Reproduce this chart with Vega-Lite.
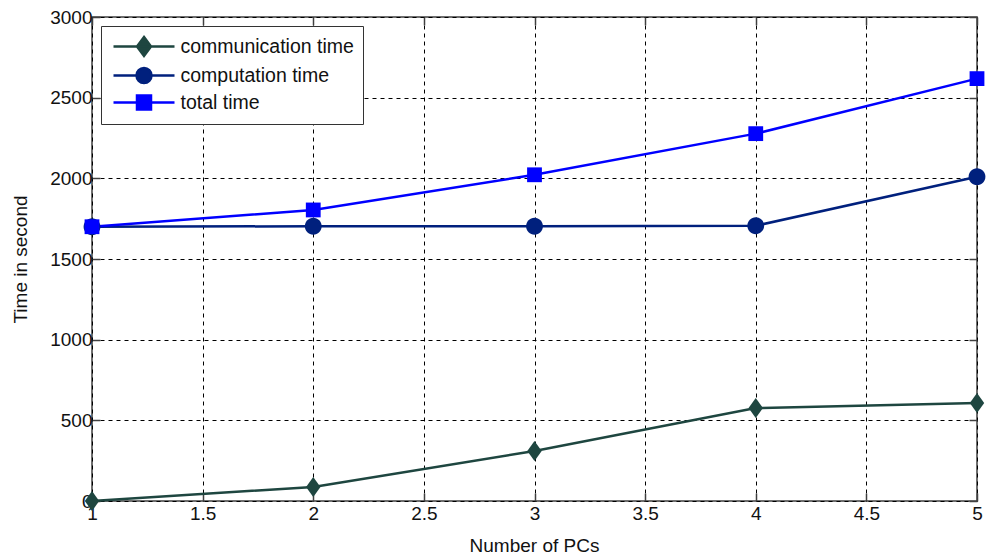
{
  "$schema": "https://vega.github.io/schema/vega-lite/v6.json",
  "width": 885,
  "height": 484,
  "autosize": {"type": "none"},
  "padding": {"left": 92, "top": 17, "right": 10, "bottom": 57},
  "background": "white",
  "config": {
    "font": "Liberation Sans",
    "view": {"stroke": "#404040", "strokeWidth": 1.5},
    "axis": {"labelFont": "Liberation Sans", "titleFont": "Liberation Sans", "labelFontSize": 19, "titleFontSize": 19, "labelColor": "#111", "titleColor": "#111", "titleFontWeight": "normal", "domain": false, "tickColor": "#404040", "tickWidth": 1.5},
    "legend": {"title": null, "orient": "top-left", "offset": 9, "padding": 9, "fillColor": "white", "strokeColor": "#333",
      "labelFont": "Liberation Sans", "labelFontSize": 19.5, "labelColor": "#111", "labelOffset": 25, "rowPadding": 2, "labelLimit": 400,
      "symbolSize": 400, "symbolOffset": 22.5, "symbolStrokeWidth": 2.5, "symbolOpacity": 1}
  },
  "data": {
    "values": [
      {"pcs": 1, "series": "communication time", "time": 0},
      {"pcs": 2, "series": "communication time", "time": 87},
      {"pcs": 3, "series": "communication time", "time": 310},
      {"pcs": 4, "series": "communication time", "time": 576},
      {"pcs": 5, "series": "communication time", "time": 607},
      {"pcs": 1, "series": "computation time", "time": 1700},
      {"pcs": 2, "series": "computation time", "time": 1703},
      {"pcs": 3, "series": "computation time", "time": 1703},
      {"pcs": 4, "series": "computation time", "time": 1706},
      {"pcs": 5, "series": "computation time", "time": 2010},
      {"pcs": 1, "series": "total time", "time": 1700},
      {"pcs": 2, "series": "total time", "time": 1804},
      {"pcs": 3, "series": "total time", "time": 2022},
      {"pcs": 4, "series": "total time", "time": 2277},
      {"pcs": 5, "series": "total time", "time": 2618}
    ]
  },
  "encoding": {
    "color": {"field": "series", "type": "nominal", "title": null,
      "scale": {"domain": ["communication time", "computation time", "total time"], "range": ["#1e4640", "#00207d", "#0000ff"]}}
  },
  "layer": [
    {
      "mark": {"type": "line", "strokeWidth": 2.5},
      "encoding": {
        "x": {"field": "pcs", "type": "quantitative", "scale": {"domain": [1, 5], "nice": false, "zero": false},
          "axis": {"orient": "bottom", "values": [1, 1.5, 2, 2.5, 3, 3.5, 4, 4.5, 5], "labelExpr": "datum.value % 1 === 0 ? format(datum.value, 'd') : format(datum.value, '.1f')", "title": "Number of PCs",
            "grid": true, "gridColor": "#000", "gridDash": [4, 4], "gridWidth": 1, "gridOpacity": 1,
            "tickSize": -8, "labelPadding": 11, "labelBaseline": "top",
            "titleX": 442, "titleY": 44, "titleBaseline": "middle", "titleAlign": "center", "labelFlush": false}},
        "y": {"field": "time", "type": "quantitative", "scale": {"domain": [0, 3000], "nice": false},
          "axis": {"orient": "left", "values": [0, 500, 1000, 1500, 2000, 2500, 3000], "format": "d", "title": "Time in second",
            "grid": true, "gridColor": "#000", "gridDash": [4, 4], "gridWidth": 1, "gridOpacity": 1,
            "tickSize": -8, "labelPadding": 8,
            "titleX": -72, "titleY": 242, "titleAngle": -90, "titleBaseline": "middle", "titleAlign": "center"}}
      }
    },
    {
      "mark": {"type": "point", "filled": true, "opacity": 0, "size": 400},
      "encoding": {
        "x": {"field": "pcs", "type": "quantitative", "scale": {"domain": [1, 5], "nice": false, "zero": false},
          "axis": {"orient": "top", "values": [1, 1.5, 2, 2.5, 3, 3.5, 4, 4.5, 5], "labels": false, "grid": false, "title": null, "tickSize": -8}},
        "y": {"field": "time", "type": "quantitative", "scale": {"domain": [0, 3000], "nice": false},
          "axis": {"orient": "right", "values": [0, 500, 1000, 1500, 2000, 2500, 3000], "labels": false, "grid": false, "title": null, "tickSize": -8}},
        "stroke": {"field": "series", "type": "nominal", "title": null,
          "scale": {"domain": ["communication time", "computation time", "total time"], "range": ["#1e4640", "#00207d", "#0000ff"]}},
        "shape": {"field": "series", "type": "nominal", "title": null,
          "scale": {"domain": ["communication time", "computation time", "total time"],
            "range": ["M-3.05,0H3.05M0,-0.95L0.7,0L0,0.95L-0.7,0Z", "M-3.05,0H3.05M0.75,0A0.75,0.75,0,1,1,-0.75,0A0.75,0.75,0,1,1,0.75,0Z", "M-3.05,0H3.05M-0.7,-0.7H0.7V0.7H-0.7Z"]}}
      }
    },
    {
      "transform": [{"filter": "datum.series === 'communication time'"}],
      "mark": {"type": "point", "filled": true, "opacity": 1, "size": 400, "shape": "M0,-1L0.72,0L0,1L-0.72,0Z"},
      "encoding": {
        "x": {"field": "pcs", "type": "quantitative", "axis": null},
        "y": {"field": "time", "type": "quantitative", "axis": null}
      }
    },
    {
      "transform": [{"filter": "datum.series === 'computation time'"}],
      "mark": {"type": "point", "filled": true, "opacity": 1, "size": 400, "shape": "M0.84,0A0.84,0.84,0,1,1,-0.84,0A0.84,0.84,0,1,1,0.84,0Z"},
      "encoding": {
        "x": {"field": "pcs", "type": "quantitative", "axis": null},
        "y": {"field": "time", "type": "quantitative", "axis": null}
      }
    },
    {
      "transform": [{"filter": "datum.series === 'total time'"}],
      "mark": {"type": "point", "filled": true, "opacity": 1, "size": 400, "shape": "M-0.74,-0.74H0.74V0.74H-0.74Z"},
      "encoding": {
        "x": {"field": "pcs", "type": "quantitative", "axis": null},
        "y": {"field": "time", "type": "quantitative", "axis": null}
      }
    }
  ],
  "resolve": {"axis": {"x": "independent", "y": "independent"}}
}
